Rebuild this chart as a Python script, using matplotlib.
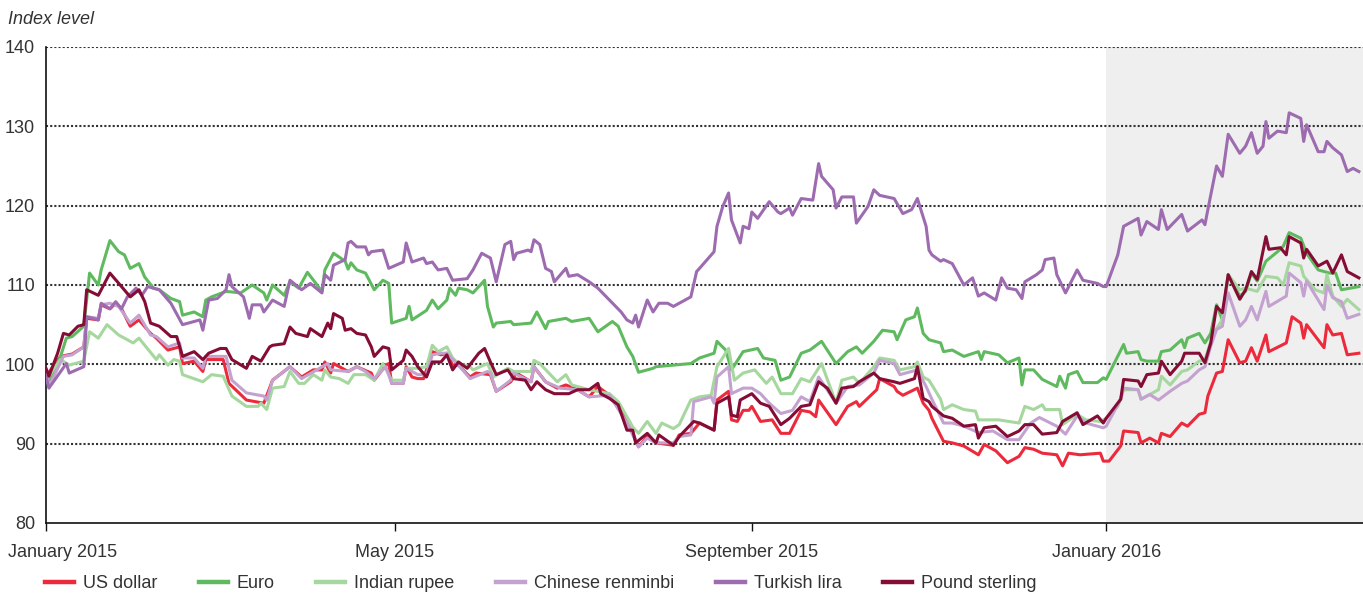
import matplotlib
matplotlib.use("Agg")
import matplotlib.pyplot as plt
import matplotlib.transforms as mtransforms
from matplotlib.lines import Line2D
import pandas as pd

plt.rcParams["font.family"] = ["Liberation Sans", "DejaVu Sans"]

# readings as (days after 1 Jan 2015, index level)
us_dollar = [(0, 98.5), (5, 101), (9, 101.3), (13, 102.2), (14, 105.8), (18, 105.6), (19, 107.5),
             (22, 107), (24, 107.7), (26, 107), (29, 104.8), (32, 105.6), (36, 103.9), (38, 103.3),
             (42, 101.8), (46, 102.2), (47, 100.1), (51, 100.4), (54, 99.1), (55, 100.6), (61, 100.6),
             (63, 97.6), (69, 95.5), (75, 95.1), (78, 98), (84, 99.7), (88, 98.4), (92, 99.3), (95, 99.3),
             (96, 100.3), (98, 98.9), (99, 100.1), (104, 99.1), (107, 99.7), (112, 98.9), (113, 98),
             (117, 99.9), (118, 100.1), (119, 97.6), (123, 97.6), (124, 99.7), (126, 98.4), (128, 98.2),
             (130, 98.2), (133, 101.6), (136, 101.2), (138, 101.4), (140, 99.9), (142, 99.9), (146, 98.4),
             (148, 98.9), (153, 98.7), (155, 96.6), (160, 97.8), (162, 98.9), (167, 97.8), (168, 99.7),
             (172, 97.8), (176, 97), (179, 97.4), (183, 96.8), (187, 95.9), (190, 97.2), (194, 96.1),
             (197, 94.9), (200, 92.6), (202, 91.3), (204, 89.6), (207, 90.9), (210, 90.1), (216, 89.8),
             (218, 91.1), (222, 91.3), (225, 92.6), (230, 91.7), (231, 95.5), (235, 96.6), (236, 93),
             (238, 92.8), (240, 94.2), (242, 94.2), (243, 94.7), (246, 92.8), (250, 93), (253, 91.3),
             (256, 91.3), (260, 94.2), (263, 94), (265, 93.4), (266, 95.5), (272, 92.4), (276, 94.7),
             (279, 95.3), (280, 94.7), (286, 96.8), (287, 98.2), (292, 97.2), (293, 96.6), (295, 96.1),
             (300, 97), (302, 95.1), (304, 94.2), (305, 93.2), (309, 90.3), (312, 90.1), (316, 89.7),
             (321, 88.6), (323, 89.9), (327, 89.1), (331, 87.6), (335, 88.4), (337, 89.5), (340, 89.3),
             (343, 88.8), (348, 88.6), (350, 87.2), (352, 88.8), (356, 88.6), (363, 88.8), (364, 87.8),
             (366, 87.8), (370, 89.7), (371, 91.6), (376, 91.4), (377, 90.1), (380, 90.7), (383, 90.1),
             (384, 91.3), (387, 90.9), (391, 92.6), (393, 92.2), (397, 93.7), (399, 93.9), (400, 96),
             (403, 98.9), (405, 99.1), (407, 103.1), (411, 100.2), (413, 100.4), (415, 102.1),
             (417, 100.4), (420, 103.7), (421, 101.6), (427, 102.7), (429, 106), (432, 105.2),
             (433, 103.3), (434, 105), (440, 102.1), (441, 105), (443, 103.7), (446, 103.9),
             (448, 101.2), (452, 101.4)]

euro = [(0, 99.3), (1, 97.6), (5, 101), (7, 103.3), (9, 103.5), (13, 104.8), (15, 111.5), (18, 110),
        (19, 111.9), (22, 115.6), (25, 114.2), (27, 113.8), (29, 112.1), (32, 112.7), (34, 111),
        (37, 109.6), (39, 109.4), (43, 108.3), (46, 107.9), (47, 106.2), (51, 106.6), (54, 106),
        (55, 108.1), (57, 108.5), (62, 109.2), (67, 109), (71, 110), (75, 109), (76, 108.1), (78, 110),
        (82, 108.7), (84, 110.4), (87, 109.6), (90, 111.6), (95, 109.2), (96, 111.9), (99, 114),
        (103, 113), (104, 112), (105, 112.8), (107, 111.9), (110, 111.5), (113, 109.4), (116, 110.6),
        (118, 110.2), (119, 105.2), (124, 105.8), (125, 107.3), (126, 105.6), (131, 106.8),
        (133, 108.1), (135, 107), (138, 108.1), (139, 109.6), (141, 108.7), (142, 109.6), (145, 109.4),
        (147, 109), (151, 110.6), (152, 107.3), (154, 104.7), (155, 105.2), (160, 105.4), (161, 105),
        (167, 105.2), (169, 106.6), (172, 104.5), (173, 105.4), (179, 105.8), (181, 105.4),
        (187, 105.8), (190, 104.1), (195, 105.4), (197, 104.8), (200, 102.2), (202, 101), (204, 99),
        (209, 99.5), (210, 99.7), (216, 99.9), (222, 100.1), (225, 100.8), (230, 101.4), (231, 102.9),
        (234, 101.8), (236, 99.3), (240, 101.6), (245, 102), (247, 100.8), (251, 100.5), (253, 98),
        (256, 98.4), (260, 101.4), (263, 101.8), (267, 102.9), (272, 100.1), (276, 101.6),
        (279, 102.2), (281, 101.4), (285, 102.9), (288, 104.3), (292, 104.1), (293, 103.1),
        (296, 105.6), (299, 106), (300, 107.1), (302, 103.9), (304, 103.1), (308, 102.7),
        (309, 101.6), (312, 101.8), (316, 101), (321, 101.6), (322, 100.6), (323, 101.6),
        (328, 101.2), (331, 100.2), (335, 100.8), (336, 97.4), (337, 99.3), (340, 99.3), (343, 98.1),
        (348, 97.2), (349, 98.5), (351, 97), (352, 98.7), (355, 99.1), (357, 97.7), (362, 97.7),
        (364, 98.3), (365, 98.1), (371, 102.5), (372, 101.4), (376, 101.6), (377, 100.6),
        (379, 100.4), (383, 100.4), (384, 101.6), (387, 101.8), (391, 103.1), (392, 102.1),
        (393, 103.3), (397, 103.9), (399, 102.7), (401, 103.9), (403, 107.5), (405, 105.6),
        (407, 111.3), (411, 108.6), (413, 109.2), (415, 111.5), (417, 110.5), (420, 113),
        (424, 114.2), (426, 114.9), (428, 116.6), (432, 115.9), (434, 114), (438, 111.9),
        (442, 111.5), (444, 111.5), (446, 109.4), (449, 109.6), (452, 109.8)]

indian_rupee = [(0, 98), (5, 100.6), (8, 99.9), (13, 100.4), (15, 104.1), (18, 103.3), (21, 105),
                (25, 103.7), (30, 102.7), (32, 103.3), (38, 100.6), (39, 101.2), (42, 99.9),
                (44, 100.6), (46, 100.4), (47, 98.7), (54, 97.8), (57, 98.7), (61, 98.5), (64, 96),
                (69, 94.7), (73, 94.7), (74, 95.1), (76, 94.3), (78, 97), (82, 97.2), (84, 99.1),
                (87, 97.6), (89, 97.6), (92, 98.7), (95, 98), (96, 99.3), (98, 98.4), (101, 98.2),
                (104, 97.6), (106, 98.7), (110, 98.7), (113, 98), (116, 100.1), (119, 98), (123, 98),
                (124, 99.5), (128, 99.5), (131, 99.7), (133, 102.4), (135, 101.6), (138, 102.2),
                (140, 100.8), (142, 100.1), (146, 99.7), (147, 99.3), (152, 100.1), (154, 98.4),
                (159, 99.5), (161, 99.1), (167, 99.1), (168, 100.5), (170, 100.1), (176, 97.8),
                (179, 98.7), (181, 97.4), (187, 96.8), (194, 96.3), (197, 95.3), (200, 93.4),
                (202, 92.1), (204, 91.3), (207, 92.8), (210, 91.3), (212, 92.6), (216, 91.9),
                (218, 92.4), (222, 95.5), (225, 95.9), (229, 96.1), (231, 99.7), (235, 102), (237, 98),
                (240, 98.9), (244, 99.3), (248, 97.6), (250, 98.4), (253, 96.3), (257, 96.3),
                (260, 98.2), (263, 97.8), (267, 100.1), (272, 95.1), (274, 98), (278, 98.4),
                (280, 97.6), (285, 99.7), (287, 100.8), (292, 100.5), (294, 99.3), (299, 99.7),
                (300, 100.3), (302, 98.4), (304, 98), (308, 95.6), (309, 94.3), (312, 94.9),
                (316, 94.3), (320, 94.1), (321, 93), (328, 93), (335, 92.6), (337, 94.7), (340, 94.3),
                (343, 94.9), (344, 94.3), (349, 94.3), (350, 92.4), (355, 93.7), (358, 93), (363, 92.8),
                (365, 93.2), (369, 94.7), (371, 96.8), (376, 96.8), (377, 95.6), (383, 96.8),
                (384, 98.5), (387, 97.4), (391, 99.1), (393, 99.3), (397, 100.4), (399, 100.6),
                (402, 104), (405, 105.6), (407, 111.3), (411, 109.4), (413, 109.6), (417, 109.2),
                (420, 111.1), (424, 110.9), (426, 110), (428, 112.8), (432, 112.4), (433, 111.1),
                (437, 109.4), (440, 109), (441, 111.3), (443, 108.6), (446, 107.3), (448, 108.2),
                (452, 106.9)]

renminbi = [(0, 98.9), (1, 97.2), (6, 101), (9, 101.2), (13, 102.2), (14, 106), (18, 105.8),
            (19, 107.5), (22, 107.7), (25, 107.3), (29, 105.2), (32, 106.2), (36, 103.7), (38, 103.5),
            (42, 102.2), (46, 102.7), (47, 100.8), (51, 100.8), (54, 99.5), (55, 101), (62, 101),
            (64, 98), (69, 96.4), (75, 96), (76, 95.5), (78, 98), (84, 99.7), (88, 98.2), (97, 100.1),
            (98, 99.3), (104, 99.1), (107, 99.7), (110, 99.1), (113, 98.2), (117, 99.7), (119, 97.6),
            (123, 97.6), (124, 99.5), (128, 98.7), (131, 98.7), (133, 101.2), (136, 101.4),
            (138, 101.4), (142, 99.9), (146, 98.2), (152, 99.1), (153, 98.9), (155, 96.6), (160, 98),
            (161, 98.9), (167, 97.8), (168, 99.7), (172, 97.8), (177, 97), (183, 96.8), (187, 95.9),
            (194, 96.1), (200, 92.6), (204, 89.6), (207, 90.7), (210, 90.1), (216, 90.1), (218, 90.9),
            (222, 91.1), (223, 95.3), (225, 95.5), (229, 95.9), (230, 95.1), (231, 98.4), (235, 99.7),
            (236, 96.3), (240, 97), (243, 97), (246, 96.3), (249, 95.1), (253, 93.8), (257, 94.2),
            (260, 95.9), (263, 95.3), (266, 98.4), (272, 95.1), (276, 97.2), (280, 97.4), (285, 98.9),
            (287, 100.5), (292, 100.1), (294, 98.7), (300, 99.3), (303, 97.2), (305, 95.6),
            (309, 92.6), (312, 92.6), (316, 92.2), (321, 91.4), (326, 91.6), (331, 90.5), (335, 90.5),
            (339, 92.6), (342, 93.3), (348, 92.2), (351, 91.2), (355, 93.5), (358, 92.6), (364, 92),
            (365, 92.2), (370, 95.6), (371, 97), (376, 96.8), (377, 95.6), (380, 96.2), (383, 95.5),
            (387, 96.6), (391, 97.6), (393, 97.9), (397, 99.3), (399, 99.7), (401, 102.3),
            (403, 104.4), (405, 104.8), (407, 109), (411, 104.8), (413, 105.6), (415, 107.3),
            (417, 105.6), (420, 109.2), (421, 107.3), (427, 108.6), (428, 111.5), (432, 110.3),
            (433, 108.6), (434, 110.5), (440, 106.9), (441, 110), (443, 108.4), (446, 107.9),
            (448, 105.8), (452, 106.3)]

turkish_lira = [(0, 98.5), (1, 97), (7, 100.1), (8, 98.9), (13, 99.7), (14, 106), (18, 105.6),
                (19, 107.7), (22, 107), (24, 107.9), (26, 107), (28, 108.5), (31, 109.6), (33, 108.7),
                (35, 109.8), (39, 109.4), (43, 107.7), (47, 105), (53, 105.6), (54, 104.3),
                (56, 108.1), (59, 108.3), (62, 109.4), (63, 111.3), (64, 109.8), (68, 108.5),
                (70, 105.8), (71, 107.5), (74, 107.5), (75, 106.6), (78, 108.1), (82, 107.3),
                (84, 110.6), (88, 109.4), (91, 110.2), (95, 109), (96, 111.3), (98, 110.6),
                (99, 112.5), (103, 113.2), (104, 115.3), (105, 115.5), (107, 114.8), (110, 114.8),
                (111, 113.8), (112, 114.2), (116, 114.4), (118, 112.1), (123, 112.9), (124, 115.3),
                (126, 112.9), (130, 113.4), (131, 112.7), (133, 112.9), (135, 111.9), (138, 112.1),
                (140, 110.6), (145, 110.8), (147, 111.9), (150, 114), (153, 113.4), (155, 110.4),
                (158, 115.1), (160, 115.5), (161, 113.2), (162, 114), (166, 114.4), (167, 114.2),
                (168, 115.7), (170, 115.1), (172, 112.1), (174, 111.7), (175, 110.4), (179, 112.1),
                (180, 111.1), (183, 111.3), (187, 110.4), (190, 109.6), (194, 108.1), (198, 106.6),
                (200, 105.6), (202, 105.2), (203, 106.2), (204, 104.7), (207, 108.1), (209, 106.6),
                (211, 107.7), (214, 107.7), (216, 107.3), (218, 107.7), (222, 108.5), (224, 111.7),
                (225, 112.1), (230, 114.2), (231, 117.4), (233, 119.9), (235, 121.6), (236, 118.2),
                (239, 115.3), (240, 117.4), (242, 117.1), (243, 119.2), (245, 118.4), (249, 120.5),
                (252, 119.2), (253, 119), (256, 119.7), (257, 118.8), (260, 120.9), (264, 120.7),
                (266, 125.3), (267, 123.7), (271, 122), (272, 119.7), (274, 121.1), (278, 121.1),
                (279, 117.8), (283, 119.9), (285, 122), (287, 121.3), (292, 120.9), (295, 119),
                (298, 119.5), (300, 120.9), (303, 117.4), (304, 114.4), (305, 113.8), (308, 113),
                (309, 113.2), (312, 112.7), (316, 110), (319, 110.9), (321, 108.6), (323, 109),
                (327, 108.1), (329, 110.9), (331, 109.6), (334, 109.4), (336, 108.3), (337, 110.4),
                (341, 111.3), (343, 111.9), (344, 113.2), (347, 113.4), (348, 111.3), (351, 109),
                (355, 111.9), (357, 110.6), (362, 110.2), (364, 109.8), (365, 109.8), (369, 113.8),
                (371, 117.4), (376, 118.4), (377, 116.3), (379, 118), (383, 117), (384, 119.5),
                (386, 117), (391, 118.9), (393, 116.8), (398, 118.2), (399, 117.6), (400, 119.5),
                (403, 125), (405, 123.7), (407, 129), (411, 126.6), (413, 127.5), (415, 129.2),
                (417, 126.6), (419, 127.5), (420, 130.6), (421, 128.5), (424, 129.4), (427, 129.2),
                (428, 131.7), (432, 131), (433, 128.1), (434, 130.2), (438, 126.8), (440, 126.8),
                (441, 128.1), (443, 127.3), (446, 126.4), (448, 124.3), (450, 124.7), (452, 124.3)]

pound = [(0, 99.5), (1, 98.5), (4, 101.4), (6, 103.9), (8, 103.7), (11, 104.8), (13, 105), (14, 109.4),
         (18, 108.7), (22, 111.5), (26, 109.8), (29, 108.5), (32, 109.4), (34, 107.9), (36, 105.2),
         (39, 104.8), (43, 103.5), (45, 103.5), (47, 101), (51, 101.6), (54, 100.6), (56, 101.4),
         (60, 102), (62, 102), (64, 100.6), (69, 99.5), (71, 101), (74, 100.4), (77, 102.2),
         (78, 102.4), (82, 102.6), (84, 104.7), (86, 103.9), (90, 103.5), (91, 104.5), (95, 103.5),
         (97, 105.2), (98, 104.5), (99, 106.4), (102, 105.8), (103, 104.3), (105, 104.5),
         (107, 103.9), (110, 103.7), (112, 102.2), (113, 101), (116, 102.2), (118, 102), (119, 99.3),
         (123, 100.5), (124, 101.8), (126, 101), (128, 99.7), (131, 98.4), (133, 100.3), (136, 100.3),
         (138, 101.2), (140, 99.3), (142, 100.3), (145, 99.5), (149, 101.4), (151, 102), (153, 100.3),
         (155, 98.7), (159, 99.3), (161, 98.2), (165, 98), (167, 96.8), (169, 97.8), (172, 96.8),
         (175, 96.3), (180, 96.3), (183, 96.8), (187, 96.8), (190, 97.6), (191, 96.3), (194, 95.7),
         (197, 94.9), (200, 91.7), (202, 91.7), (203, 90.1), (207, 91.3), (210, 90.1), (211, 91.1),
         (216, 89.8), (218, 90.9), (223, 92.8), (225, 92.6), (230, 91.7), (231, 95.1), (234, 95.7),
         (235, 95.9), (236, 93.6), (238, 93.4), (239, 95.5), (243, 96.3), (246, 95.1), (249, 94.7),
         (253, 92.4), (256, 93.2), (260, 94.7), (263, 94.9), (266, 97.8), (269, 97), (272, 95.1),
         (274, 97), (278, 97.2), (280, 97.8), (285, 98.9), (287, 98.2), (292, 97.8), (294, 97.6),
         (299, 98.2), (300, 99.7), (302, 95.7), (304, 95.3), (305, 94.7), (309, 93.5), (312, 93.2),
         (316, 92.2), (320, 92.4), (321, 90.7), (323, 92), (327, 92.2), (331, 90.9), (335, 91.6),
         (337, 92.4), (340, 92.4), (343, 91.2), (348, 91.4), (350, 92.8), (355, 93.9), (357, 92.4),
         (362, 93.5), (364, 92.6), (365, 93.2), (370, 95.6), (371, 98.1), (376, 97.9), (377, 97.2),
         (379, 98.7), (383, 98.9), (384, 100.4), (387, 98.7), (391, 100.4), (392, 101.4),
         (397, 101.4), (399, 100.2), (401, 102.7), (403, 107.3), (405, 106.5), (407, 111.3),
         (411, 108.2), (413, 109.4), (415, 111.7), (417, 110.7), (420, 116.1), (421, 114.5),
         (425, 114.7), (427, 113.8), (428, 116.1), (432, 115.3), (433, 113.4), (434, 114.5),
         (438, 112.4), (441, 113), (443, 111.5), (446, 113.8), (448, 111.7), (452, 110.9)]

labels = ["US dollar", "Euro", "Indian rupee", "Chinese renminbi", "Turkish lira", "Pound sterling"]
colors = ["#ec2a3c", "#5fba5f", "#a6d79e", "#c3a2d0", "#9d6bb0", "#850c35"]
series = [us_dollar, euro, indian_rupee, renminbi, turkish_lira, pound]

start = pd.Timestamp("2015-01-01")
x_end = pd.Timestamp("2016-03-29 10:00")
shade_start = pd.Timestamp("2016-01-01")
tick_dates = pd.to_datetime(["2015-01-01", "2015-05-01", "2015-09-01", "2016-01-01"])
tick_labels = ["January 2015", "May 2015", "September 2015", "January 2016"]
yticks = [80, 90, 100, 110, 120, 130, 140]

W, H = 1363, 594
fig = plt.figure(figsize=(W / 100, H / 100), dpi=100)
ax = fig.add_axes([46 / W, 1 - 523 / H, 1 - 46 / W, (523 - 47) / H])
ax.set_xlim(start, x_end)
ax.set_ylim(80, 140)

ax.axvspan(shade_start, x_end, color="#efefef", lw=0, zorder=0)

for v in yticks[1:]:
    ax.axhline(v, color="#333333", lw=1.5, ls=(0, (1, 1)), zorder=1)

for pts, c in zip(series, colors):
    days = [p[0] for p in pts]
    vals = [p[1] for p in pts]
    x = start + pd.to_timedelta(days, unit="D")
    ax.plot(x, vals, color=c, lw=2.2, zorder=3)

for s in ["top", "right"]:
    ax.spines[s].set_visible(False)
for s in ["left", "bottom"]:
    ax.spines[s].set_color("#111111")
    ax.spines[s].set_linewidth(1.2)

ax.set_xticks(tick_dates)
ax.set_xticklabels(tick_labels)
ax.set_yticks(yticks)
ax.tick_params(axis="x", length=6, width=1, direction="out", pad=9,
               labelsize=13, labelcolor="#333333", color="#111111")
ax.tick_params(axis="y", length=0, pad=8, labelsize=13, labelcolor="#333333")

# first date label sits right of its tick so it is not cut off
first = ax.get_xticklabels()[0]
first.set_transform(first.get_transform() + mtransforms.ScaledTranslation(0.17, 0, fig.dpi_scale_trans))

fig.text(8 / W, 1 - 20 / H, "Index level", style="italic", fontsize=13,
         color="#333333", ha="left", va="center")

handles = [Line2D([], [], color=c, lw=3.2) for c in colors]
fig.legend(handles, labels, loc="center left", bbox_to_anchor=(45 / W, 1 - 584 / H),
           ncol=6, frameon=False, fontsize=13, handlelength=1.6, handletextpad=0.5,
           columnspacing=2.3, borderaxespad=0, borderpad=0, labelcolor="#333333")

fig.savefig("out.png", dpi=100)
